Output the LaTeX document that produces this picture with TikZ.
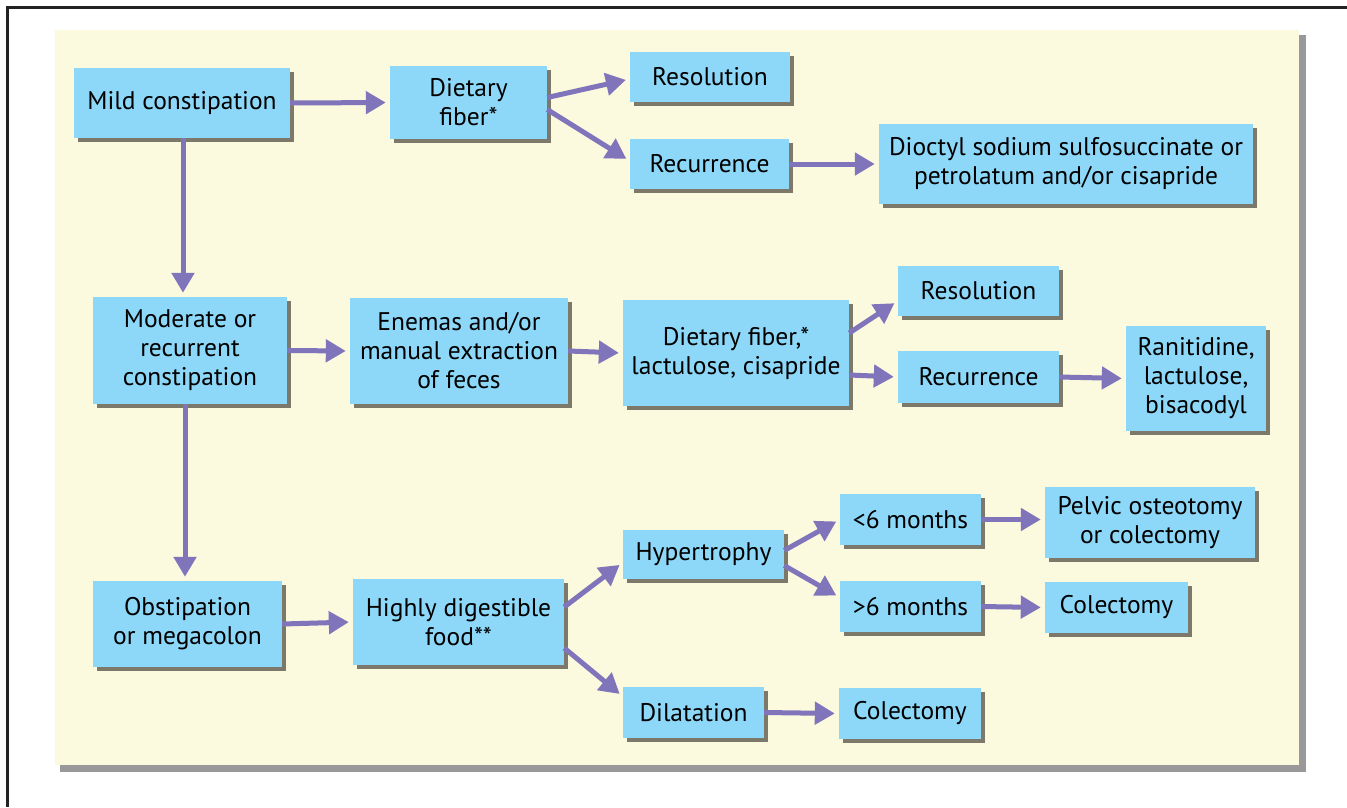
\documentclass[tikz,border=0pt]{standalone}
\usepackage{fontspec}
\setmainfont{PT Sans}
\usetikzlibrary{arrows.meta,shadows,calc}
\definecolor{panel}{HTML}{FBF9DE}
\definecolor{boxblue}{HTML}{8DD8F8}
\definecolor{shadowc}{HTML}{7C796B}
\definecolor{arrowc}{HTML}{8075BA}
\definecolor{framec}{HTML}{222222}
\begin{document}
\begin{tikzpicture}[x=1pt,y=-1pt,
  box/.style={fill=boxblue, inner sep=0pt, align=center,
    font=\fontsize{25.5}{29}\selectfont,
    drop shadow={shadow xshift=4pt, shadow yshift=-4pt, fill=shadowc, opacity=1}},
  arr/.style={draw=arrowc, line width=5pt, -{Triangle[length=20pt,width=22pt]}, shorten >=4pt}]
\useasboundingbox (0,0) rectangle (1347,807);
\fill[white] (0,0) rectangle (1347,807);
\draw[line width=3pt, framec] (7,807) -- (7,7) -- (1347,7);
% panel with shadow
\fill[black!40] (60,35) rectangle (1306,772);
\draw[black!12, line width=1pt] (55,765) -- (55,30) -- (1299,30);
\fill[panel] (55,30) rectangle (1299,765);
% boxes
\node[box, minimum width=216, minimum height=70] (mild) at (182,103) {Mild constipation};
\node[box, minimum width=157, minimum height=73] (fiber1) at (468.5,102.5) {Dietary\\fiber*};
\node[box, minimum width=160, minimum height=50] (res1) at (710,77) {Resolution};
\node[box, minimum width=159, minimum height=50] (rec1) at (709.5,164) {Recurrence};
\node[box, minimum width=374, minimum height=80] (dioc) at (1066,164) {Dioctyl sodium sulfosuccinate or\\petrolatum and/or cisapride};
\node[box, minimum width=194, minimum height=107] (mod) at (190,350.5) {Moderate or\\recurrent\\constipation};
\node[box, minimum width=218, minimum height=106] (enem) at (459,351) {Enemas and/or\\manual extraction\\of feces};
\node[box, minimum width=226, minimum height=106] (fiber2) at (736,353) {Dietary fiber,*\\lactulose, cisapride};
\node[box, minimum width=161, minimum height=50] (res2) at (978.5,291) {Resolution};
\node[box, minimum width=161, minimum height=52] (rec2) at (978.5,377) {Recurrence};
\node[box, minimum width=140, minimum height=105] (rani) at (1196,378.5) {Ranitidine,\\lactulose,\\bisacodyl};
\node[box, minimum width=189, minimum height=86] (obst) at (187.5,624) {Obstipation\\or megacolon};
\node[box, minimum width=211, minimum height=86] (food) at (458.5,622) {Highly digestible\\food**};
\node[box, minimum width=161, minimum height=49] (hyp) at (703.5,554.5) {Hypertrophy};
\node[box, minimum width=141, minimum height=51] (lt6) at (910.5,519.5) {<6 months};
\node[box, minimum width=141, minimum height=51] (gt6) at (910.5,606.5) {>6 months};
\node[box, minimum width=210, minimum height=71] (pelv) at (1150,522.5) {Pelvic osteotomy\\or colectomy};
\node[box, minimum width=143, minimum height=51] (col1) at (1116.5,607.5) {Colectomy};
\node[box, minimum width=141, minimum height=51] (dil) at (693.5,712.5) {Dilatation};
\node[box, minimum width=142, minimum height=51] (col2) at (910,713.5) {Colectomy};
% connectors
\draw[arr] (mild.east) -- (fiber1.west);
\draw[arr] ([yshift=5pt]fiber1.east) -- ([yshift=-2pt]res1.west);
\draw[arr] ([yshift=-7pt]fiber1.east) -- ([yshift=3pt]rec1.west);
\draw[arr] (rec1.east) -- (dioc.west);
\draw[arr] ([xshift=1pt]mild.south) -- ([xshift=1pt]mild.south |- mod.north);
\draw[arr] (mod.east) -- (enem.west);
\draw[arr] (enem.east) -- (fiber2.west);
\draw[arr] ([yshift=20pt]fiber2.east) -- ([yshift=-10pt]res2.west);
\draw[arr] ([yshift=-22pt]fiber2.east) -- (rec2.west);
\draw[arr] (rec2.east) -- (rani.west);
\draw[arr] ([xshift=-5pt]mod.south) -- ([xshift=-5pt]mod.south |- obst.north);
\draw[arr] (obst.east) -- (food.west);
\draw[arr] ([yshift=15pt]food.east) -- ([yshift=-8pt]hyp.west);
\draw[arr] ([yshift=-26pt]food.east) -- ([yshift=16pt]dil.west);
\draw[arr] ([yshift=4pt]hyp.east) -- (lt6.west);
\draw[arr] ([yshift=-11pt]hyp.east) -- ([yshift=9pt]gt6.west);
\draw[arr] (lt6.east) -- (lt6.east -| pelv.west);
\draw[arr] (gt6.east) -- (col1.west);
\draw[arr] (dil.east) -- (col2.west);
\end{tikzpicture}
\end{document}
